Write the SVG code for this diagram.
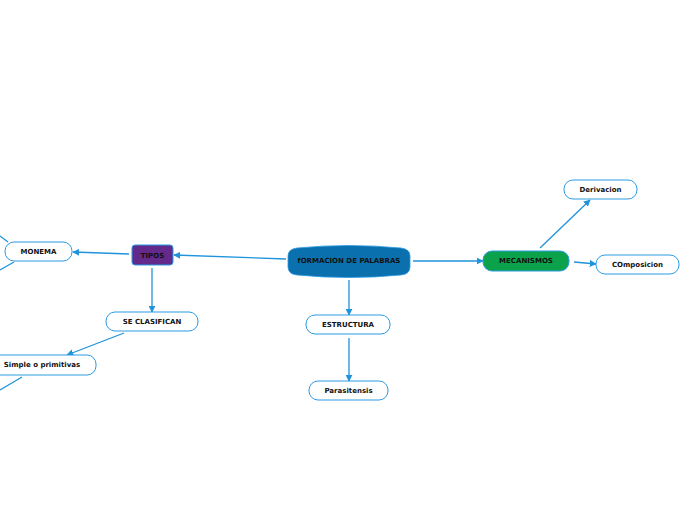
<svg xmlns="http://www.w3.org/2000/svg" width="696" height="520" viewBox="0 0 696 520">
<style>
.c{stroke:#1f93dc;stroke-width:1.3;fill:none}
.n{fill:#fff;stroke:#2b9be2;stroke-width:1}
.t{font-family:"DejaVu Sans",Verdana,sans-serif;font-weight:bold;font-size:7px;fill:#111;text-anchor:middle;dominant-baseline:central}
</style>
<defs>
<marker id="a" viewBox="0 0 10 10" refX="9" refY="5" markerWidth="7" markerHeight="7" markerUnits="userSpaceOnUse" orient="auto">
<path d="M0,0 L10,5 L0,10 Z" fill="#1f93dc"/>
</marker>
</defs>
<rect width="696" height="520" fill="#fff"/>
<g id="connectors">
<line class="c" x1="286" y1="259" x2="174" y2="255" marker-end="url(#a)"/>
<line class="c" x1="129" y1="254" x2="73" y2="252" marker-end="url(#a)"/>
<line class="c" x1="152" y1="268" x2="152" y2="312" marker-end="url(#a)"/>
<line class="c" x1="124" y1="333" x2="67" y2="355" marker-end="url(#a)"/>
<line class="c" x1="349" y1="280" x2="349" y2="315" marker-end="url(#a)"/>
<line class="c" x1="349" y1="338" x2="349" y2="381" marker-end="url(#a)"/>
<line class="c" x1="413" y1="261" x2="483" y2="261" marker-end="url(#a)"/>
<line class="c" x1="540" y1="248" x2="590" y2="200" marker-end="url(#a)"/>
<line class="c" x1="574" y1="262" x2="596" y2="264" marker-end="url(#a)"/>
<line class="c" x1="0" y1="236" x2="8" y2="242"/>
<line class="c" x1="14" y1="262" x2="0" y2="270"/>
<line class="c" x1="22" y1="377" x2="0" y2="390"/>
</g>
<g id="central">
<path d="M297,248 Q349,243 401,248 Q410,249 410,256 L410,267 Q410,274 401,275 Q349,280 297,275 Q288,274 288,267 L288,256 Q288,249 297,248 Z" fill="#0a70ae" stroke="#2b9be2" stroke-width="0.8"/>
<text class="t" x="349" y="261">fORMACION DE PALABRAS</text>
</g>
<g id="tipos">
<rect x="132" y="245" width="41" height="20" rx="3" fill="#632a8c" stroke="#2b9be2" stroke-width="1"/>
<text class="t" x="152.5" y="255.5">TIPOS</text>
</g>
<g id="monema">
<rect class="n" x="5" y="242" width="67" height="19" rx="9"/>
<text class="t" x="38.5" y="252">MONEMA</text>
</g>
<g id="seclasifican">
<rect class="n" x="106" y="312" width="92" height="19" rx="9"/>
<text class="t" x="152" y="321.5">SE CLASIFICAN</text>
</g>
<g id="simple">
<rect class="n" x="-12" y="355" width="108" height="20" rx="9"/>
<text class="t" x="42" y="365">Simple o primitivas</text>
</g>
<g id="estructura">
<rect class="n" x="306" y="315" width="84" height="19" rx="9"/>
<text class="t" x="348" y="324.5">ESTRUCTURA</text>
</g>
<g id="parasitensis">
<rect class="n" x="309" y="381" width="79" height="19" rx="9"/>
<text class="t" x="348.5" y="391">Parasitensis</text>
</g>
<g id="mecanismos">
<rect x="483" y="251" width="86" height="20" rx="9" fill="#0ca24c" stroke="#2b9be2" stroke-width="1"/>
<text class="t" x="526" y="261">MECANISMOS</text>
</g>
<g id="derivacion">
<rect class="n" x="564" y="180" width="73" height="19" rx="9"/>
<text class="t" x="600.5" y="190">Derivacion</text>
</g>
<g id="composicion">
<rect class="n" x="596" y="255" width="83" height="19" rx="9"/>
<text class="t" x="637.5" y="264.5">COmposicion</text>
</g>
</svg>
